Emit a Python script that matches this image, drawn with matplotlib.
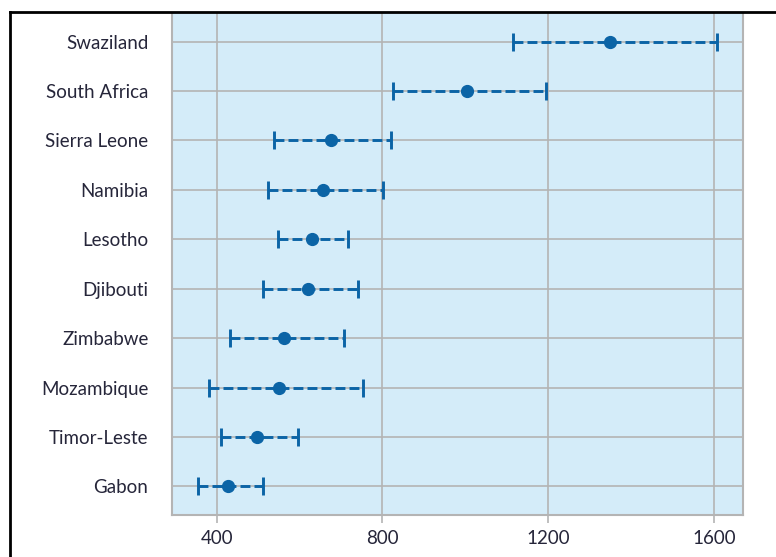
import matplotlib.pyplot as plt
from matplotlib.lines import Line2D

countries = ["Swaziland", "South Africa", "Sierra Leone", "Namibia", "Lesotho",
             "Djibouti", "Zimbabwe", "Mozambique", "Timor-Leste", "Gabon"]
point = [1349, 1003, 675, 656, 629, 620, 563, 551, 498, 428]
low = [1115, 825, 539, 523, 549, 511, 432, 381, 410, 354]
high = [1607, 1194, 820, 802, 716, 740, 707, 754, 597, 511]

plt.rcParams['font.family'] = ['Lato', 'DejaVu Sans']

blue = '#0b64a6'
grey = '#b4b4b4'

fig = plt.figure(figsize=(7.76, 5.57), dpi=100)
ax = fig.add_axes([172/776, 1 - 515/557, (743 - 172)/776, (515 - 13)/557])
ax.set_facecolor('#d4ecf9')

y = list(range(len(countries)))
xerr = [[p - l for p, l in zip(point, low)], [h - p for p, h in zip(point, high)]]
eb = ax.errorbar(point, y, xerr=xerr, fmt='o', color=blue, ms=8.5,
                 elinewidth=2.1, capsize=6.5, capthick=2.1, zorder=3)
for lc in eb[2]:
    lc.set_linestyle((0, (3.4, 1.4)))

ax.set_yticks(y)
ax.set_yticklabels(countries)
ax.set_ylim(len(countries) - 0.42, -0.58)
ax.set_xlim(292, 1670)
ax.set_xticks([400, 800, 1200, 1600])

ax.grid(True, color=grey, linewidth=1.2, zorder=0)
ax.set_axisbelow(True)
for s in ['left', 'right', 'bottom']:
    ax.spines[s].set_color(grey)
    ax.spines[s].set_linewidth(1.5)
ax.spines['top'].set_visible(False)

ax.tick_params(axis='x', length=6, width=1.2, color=grey, pad=5,
               labelsize=13.5, labelcolor='#26263a')
ax.tick_params(axis='y', length=0, pad=17, labelsize=13.5, labelcolor='#26263a')

# frame lines around the figure
fig.add_artist(Line2D([10/776, 10/776], [0, 1 - 12/557], transform=fig.transFigure,
                      color='black', linewidth=2))
fig.add_artist(Line2D([10/776, 1], [1 - 12/557, 1 - 12/557], transform=fig.transFigure,
                      color='black', linewidth=2))

fig.savefig('out.png', dpi=100)
